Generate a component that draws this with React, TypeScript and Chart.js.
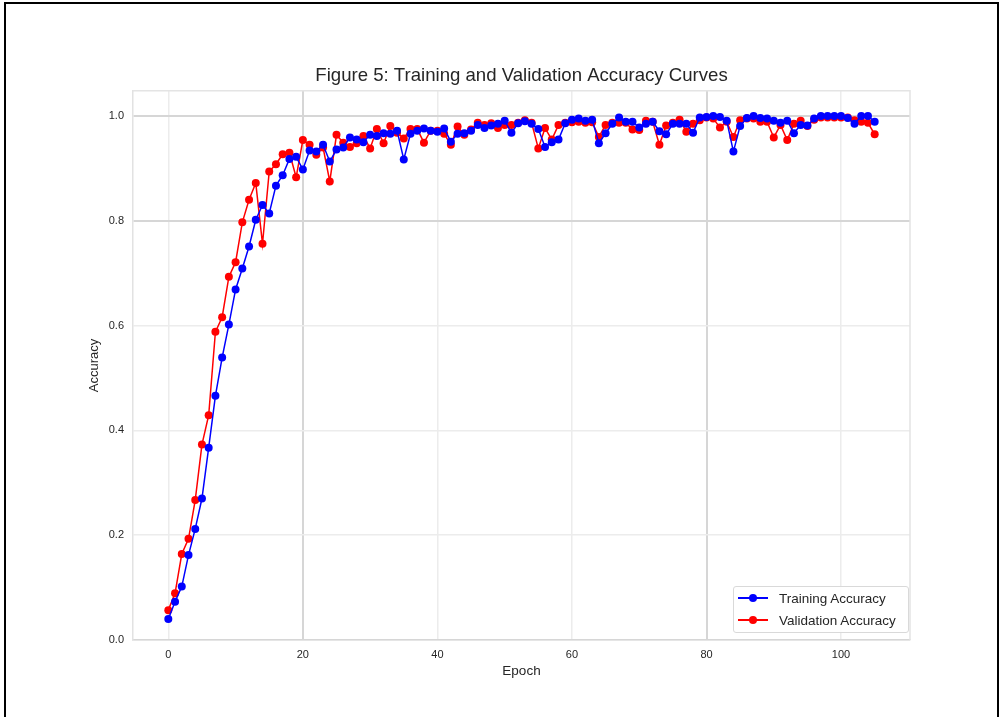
import React, { useEffect, useRef } from "react";
import { Chart, registerables } from "chart.js";

Chart.register(...registerables);

const chartTitle = "Figure 5: Training and Validation Accuracy Curves";
const xLabel = "Epoch";
const yLabel = "Accuracy";
const xTicks = [0, 20, 40, 60, 80, 100];
const yTicks = [0, 0.2, 0.4, 0.6, 0.8, 1.0];
const seriesNames = ["Training Accuracy", "Validation Accuracy"];

const trainAcc = [
  0.040, 0.073, 0.102, 0.162, 0.212, 0.270, 0.367, 0.466, 0.539, 0.602,
  0.669, 0.709, 0.751, 0.802, 0.830, 0.814, 0.867, 0.887, 0.918, 0.922,
  0.898, 0.934, 0.932, 0.945, 0.913, 0.936, 0.940, 0.959, 0.955, 0.950,
  0.964, 0.962, 0.967, 0.966, 0.972, 0.917, 0.966, 0.972, 0.976, 0.972,
  0.970, 0.976, 0.951, 0.966, 0.967, 0.972, 0.983, 0.977, 0.982, 0.985,
  0.991, 0.968, 0.986, 0.990, 0.985, 0.975, 0.941, 0.950, 0.955, 0.986,
  0.993, 0.995, 0.991, 0.993, 0.948, 0.967, 0.985, 0.997, 0.989, 0.989,
  0.978, 0.985, 0.989, 0.971, 0.965, 0.985, 0.985, 0.985, 0.968, 0.997,
  0.998, 1.000, 0.998, 0.991, 0.932, 0.981, 0.996, 1.000, 0.996, 0.995,
  0.991, 0.987, 0.991, 0.967, 0.983, 0.982, 0.995, 1.000, 1.000, 1.000,
  1.000, 0.996, 0.985, 1.000, 1.000, 0.989,
];

const valAcc = [
  0.057, 0.089, 0.164, 0.193, 0.267, 0.373, 0.429, 0.588, 0.616, 0.693,
  0.721, 0.797, 0.840, 0.872, 0.756, 0.894, 0.908, 0.927, 0.930, 0.883,
  0.954, 0.945, 0.926, 0.940, 0.875, 0.964, 0.949, 0.941, 0.948, 0.962,
  0.938, 0.975, 0.948, 0.981, 0.968, 0.957, 0.975, 0.975, 0.949, 0.972,
  0.972, 0.966, 0.945, 0.980, 0.964, 0.974, 0.987, 0.983, 0.986, 0.977,
  0.983, 0.983, 0.987, 0.992, 0.987, 0.938, 0.977, 0.955, 0.983, 0.987,
  0.988, 0.989, 0.987, 0.988, 0.960, 0.983, 0.987, 0.987, 0.987, 0.974,
  0.973, 0.991, 0.989, 0.945, 0.982, 0.987, 0.993, 0.970, 0.985, 0.992,
  0.997, 0.995, 0.978, 0.989, 0.960, 0.992, 0.995, 0.995, 0.989, 0.989,
  0.959, 0.983, 0.954, 0.985, 0.991, 0.981, 0.993, 0.997, 0.997, 0.997,
  0.997, 0.997, 0.992, 0.989, 0.987, 0.965,
];

const seriesColors = ["#0000ff", "#ff0000"];
const FONT = "'Liberation Sans', Arial, Helvetica, sans-serif";
const TEXT = "#262626";

export default function App() {
  const ref = useRef<HTMLCanvasElement | null>(null);

  useEffect(() => {
    document.body.style.margin = "0";
    document.body.style.overflow = "hidden";
    const canvas = ref.current;
    if (!canvas) return;
    const toPts = (arr: number[]) => arr.map((v, i) => ({ x: i, y: v }));
    const isDark = (v: number, list: number[]) => list.some((d) => Math.abs(v - d) < 1e-6);
    const chart = new Chart(canvas, {
      type: "line",
      data: {
        datasets: [trainAcc, valAcc].map((arr, k) => ({
          label: seriesNames[k],
          data: toPts(arr),
          borderColor: seriesColors[k],
          backgroundColor: seriesColors[k],
          pointBackgroundColor: seriesColors[k],
          pointBorderColor: seriesColors[k],
          pointRadius: 4,
          pointBorderWidth: 0,
          borderWidth: 1.5,
          tension: 0,
          fill: false,
        })),
      },
      options: {
        responsive: false,
        animation: false,
        layout: { padding: { left: 0, top: 0, right: 91, bottom: 0 } },
        plugins: {
          legend: { display: false },
          tooltip: { enabled: false },
          title: {
            display: true,
            text: chartTitle,
            fullSize: false,
            color: TEXT,
            font: { family: FONT, size: 18.6, weight: "normal" },
            padding: { top: 64.5, bottom: 4 },
          },
        },
        scales: {
          x: {
            type: "linear",
            min: -5.25,
            max: 110.25,
            afterFit: (s: any) => {
              s.height = 77;
            },
            afterBuildTicks: (s: any) => {
              s.ticks = xTicks.map((v) => ({ value: v }));
            },
            ticks: {
              color: TEXT,
              font: { family: FONT, size: 11 },
              padding: 8,
              maxRotation: 0,
              callback: (v: any) => String(v),
            },
            grid: {
              drawTicks: false,
              color: (c: any) => (c.tick && isDark(c.tick.value, [20, 80]) ? "#d6d6d6" : "#ececec"),
              lineWidth: (c: any) => (c.tick && isDark(c.tick.value, [20, 80]) ? 2 : 1.5),
            },
            border: { display: true, color: "#d6d6d6", width: 1.5 },
            title: {
              display: true,
              text: xLabel,
              color: TEXT,
              font: { family: FONT, size: 13.5 },
              padding: { top: 0, bottom: 38 },
            },
          },
          y: {
            type: "linear",
            min: 0,
            max: 1.048,
            afterFit: (s: any) => {
              s.width = 133;
            },
            afterBuildTicks: (s: any) => {
              s.ticks = yTicks.map((v) => ({ value: v }));
            },
            ticks: {
              color: TEXT,
              font: { family: FONT, size: 11 },
              padding: 9,
              callback: (v: any) => Number(v).toFixed(1),
            },
            grid: {
              drawTicks: false,
              color: (c: any) => (c.tick && isDark(c.tick.value, [0.8, 1]) ? "#d6d6d6" : "#ececec"),
              lineWidth: (c: any) => (c.tick && isDark(c.tick.value, [0.8, 1]) ? 2 : 1.5),
            },
            border: { display: true, color: "#e2e2e2", width: 1.5 },
            title: {
              display: true,
              text: yLabel,
              color: TEXT,
              font: { family: FONT, size: 13 },
              padding: { top: 87, bottom: 0 },
            },
          },
        },
      },
      plugins: [
        {
          id: "frame",
          afterDraw: (c: any) => {
            const { ctx, chartArea } = c;
            ctx.save();
            ctx.strokeStyle = "#e4e4e4";
            ctx.lineWidth = 1.5;
            ctx.beginPath();
            ctx.moveTo(chartArea.left, chartArea.top);
            ctx.lineTo(chartArea.right, chartArea.top);
            ctx.lineTo(chartArea.right, chartArea.bottom);
            ctx.stroke();
            ctx.restore();
          },
        },
      ],
    });
    return () => chart.destroy();
  }, []);

  const legendRow = (name: string, color: string) => (
    <div style={{ display: "flex", alignItems: "center", height: 22 }}>
      <div style={{ position: "relative", width: 30, height: 8, marginLeft: 4, marginRight: 11 }}>
        <div style={{ position: "absolute", left: 0, right: 0, top: 3, height: 1.5, background: color }} />
        <div
          style={{
            position: "absolute",
            left: 11,
            top: 0,
            width: 8,
            height: 8,
            borderRadius: "50%",
            background: color,
          }}
        />
      </div>
      <span style={{ fontFamily: FONT, fontSize: 13.5, color: TEXT, whiteSpace: "nowrap" }}>{name}</span>
    </div>
  );

  return (
    <div style={{ position: "fixed", left: 0, top: 0, width: 1001, height: 717, background: "#fff", overflow: "hidden" }}>
      <canvas ref={ref} width={1001} height={717} style={{ position: "absolute", left: 0, top: 0 }} />
      <div
        style={{
          position: "absolute",
          left: 733,
          top: 586,
          width: 174,
          height: 45,
          border: "1px solid #d9d9d9",
          borderRadius: 3,
          background: "rgba(255,255,255,0.9)",
          boxSizing: "content-box",
        }}
      >
        {legendRow(seriesNames[0], seriesColors[0])}
        {legendRow(seriesNames[1], seriesColors[1])}
      </div>
      <div
        style={{
          position: "absolute",
          left: 4,
          top: 2,
          width: 995,
          height: 800,
          border: "2.5px solid #000",
          boxSizing: "border-box",
          pointerEvents: "none",
        }}
      />
    </div>
  );
}
